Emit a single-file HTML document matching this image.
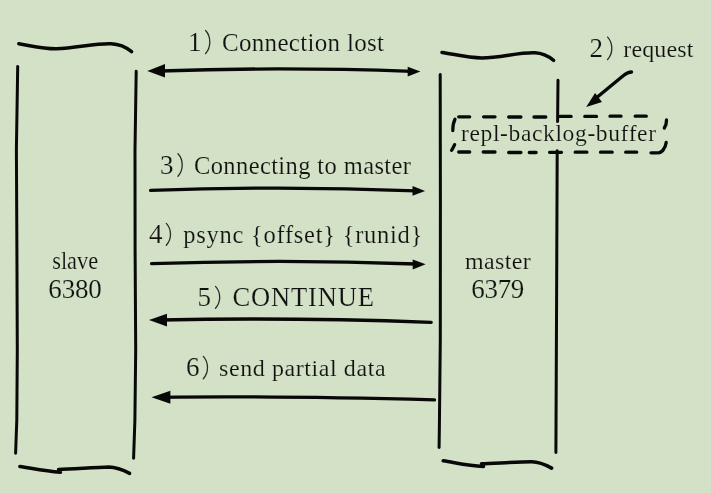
<!DOCTYPE html>
<html><head><meta charset="utf-8">
<style>
html,body{margin:0;padding:0;background:#d3e2c6;}
body{width:711px;height:493px;overflow:hidden;}
svg{display:block;will-change:transform;}
text{font-family:"Liberation Serif",serif;fill:#111;stroke:#d3e2c6;stroke-width:0.15px;opacity:0.995;}
</style></head>
<body>
<svg width="711" height="493" viewBox="0 0 711 493">
<rect width="711" height="493" fill="#d3e2c6"/>
<g fill="none" stroke="#080808" stroke-width="3" stroke-linecap="round" stroke-linejoin="round">
<!-- slave box -->
<path transform="translate(0.6,0.6)" d="M18.2,43.2 C32,45.5 44,48.4 55.7,48.2 C75,47.8 95,42.5 110.5,43.2 C120,43.6 126,47 131,51.1" stroke-width="3.5"/>
<path d="M17.7,66.5 L16.4,150 L16.9,250 L17.3,350 L16.8,420 L15.6,453.3"/>
<path d="M136.2,71.3 L135,150 L135.1,250 L135.7,350 L134.9,420 L133.6,458.2"/>
<path d="M19.8,466.4 C32,468.2 44,471 60.5,472.2 M58.6,469.4 C72,469 95,467.5 108.7,467.1 C117,467.4 124,470.5 129.6,473.4" stroke-width="3.5"/>
<!-- master box -->
<path transform="translate(0.6,0.6)" d="M441.4,51.8 C455,54 468,57.3 481.2,57.3 C500,57.2 518,51.6 534.3,52.2 C543,52.6 549,56.5 553,59.7" stroke-width="3.5"/>
<path d="M440.2,74.4 L440.4,200 L440.3,340 L439.4,425 L439.1,447.5"/>
<path d="M558,80.2 L557.6,121.6"/>
<path d="M557.2,150.8 L556.6,300 L555.9,452.6"/>
<path transform="translate(0,0.5)" d="M443.2,460.3 C455,462 467,465 483.5,466 M481.5,463.2 C495,462.8 518,461.4 531.6,461.3 C540,461.4 546,464.5 551.6,467.6" stroke-width="3.5"/>
<!-- arrows lines -->
<path stroke-width="3.3" d="M160,71 C230,68.5 330,68.5 412,71.3"/>
<path stroke-width="3.3" d="M150.6,190.4 C230,187.5 330,187.5 416,190.8"/>
<path stroke-width="3.3" d="M151.6,263.6 C230,261 330,260.8 416,264"/>
<path stroke-width="3.3" d="M160,320 C250,318 340,319 431.2,322.3"/>
<path stroke-width="3.3" d="M162,397.3 C250,396 340,397.5 434.5,399.9"/>
<!-- request arrow -->
<path d="M631.5,72 C628,72 626,73.5 623.5,75.5 L598,96.5" stroke-width="3.4"/>
</g>
<g fill="#080808" stroke="none">
<polygon points="147.3,71 165,64 165,77.4"/>
<polygon points="420.4,71.4 407.7,66.8 407.7,76.5"/>
<polygon points="425.1,191.1 412.5,186 412.5,195.7"/>
<polygon points="425.7,264.3 412.7,259.5 412.7,269.6"/>
<polygon points="149,320 167,313.8 167,326.4"/>
<polygon points="151.5,397.2 170.4,390.7 170.4,403.8"/>
<polygon points="586.2,106.9 595.1,92.9 602,101.9"/>
</g>
<!-- dashed box -->
<g fill="none" stroke="#080808" stroke-width="3.3" stroke-linecap="round">
<path d="M458.7,116.8 H469.7 M483.6,116.8 H495.0 M508.7,117 H520.9 M534.0,117 H545.8 M559.5,116.4 H571.1 M584.8,116.4 H596.5 M610.0,116.2 H621.0 M635.2,116.2 H646.3"/>
<path d="M458.7,152 H469.7 M483.2,152 H495.0 M508.7,152.5 H520.9 M529.3,152.5 H536.1 M549.6,152.3 H561.5 M575.2,152.2 H586.9 M600.5,152.2 H612.2 M625.7,152.2 H636.7 M651.0,152.8 H657.0"/>
<path d="M455,119.3 C453.6,122 452.8,126 452.8,130.5"/>
<path d="M454.6,144.6 C453.7,146.6 452.6,148.8 451.6,150.3"/>
<path d="M666.5,120 C666.6,123 665.6,126 664.3,128"/>
<path d="M666.2,142.5 C665.8,145.5 664.5,148 663.2,149.8"/>
<path d="M658.5,152.8 C660,152.6 661.5,151.8 662.8,150.5"/>
</g>
<!-- parens -->
<g fill="none" stroke="#2a2a2a" stroke-width="1.3" stroke-linecap="round">
<path d="M205.6,30.5 C211.2,36.5 211.2,47.5 205.6,53.5"/>
<path d="M607.6,37.1 C613.2,43.1 613.2,53.5 607.6,59.5"/>
<path d="M178.0,153.8 C183.6,159.8 183.6,170.2 178.0,176.2"/>
<path d="M166.3,223.4 C171.9,229.4 171.9,239.3 166.3,245.3"/>
<path d="M215.5,286.4 C221.1,292.4 221.1,302.3 215.5,308.3"/>
<path d="M203.3,356.4 C208.9,362.4 208.9,372.7 203.3,378.7"/>
</g>
<g font-size="24">
<text x="188" y="50.8" font-size="27">1</text>
<text x="222" y="50.8" textLength="162" lengthAdjust="spacing" font-size="25">Connection lost</text>
<text x="589.5" y="57" font-size="27">2</text>
<text x="623.3" y="57" textLength="70" lengthAdjust="spacing">request</text>
<text x="160" y="173.6" font-size="27">3</text>
<text x="194" y="173.6" textLength="217" lengthAdjust="spacing" font-size="24.5">Connecting to master</text>
<text x="149" y="243" font-size="27">4</text>
<text x="183.3" y="243" textLength="239" lengthAdjust="spacing" font-size="24.5">psync {offset} {runid}</text>
<text x="197.5" y="306" font-size="27">5</text>
<text x="232.4" y="306" textLength="141.6" lengthAdjust="spacing" font-size="26.5">CONTINUE</text>
<text x="186" y="376" font-size="27">6</text>
<text x="219" y="376" textLength="166.6" lengthAdjust="spacing" font-size="24">send partial data</text>
<text x="461" y="140.6" textLength="195" lengthAdjust="spacing" font-size="23.5">repl-backlog-buffer</text>
<text x="52.2" y="269.1" textLength="46" lengthAdjust="spacingAndGlyphs" font-size="25.5">slave</text>
<text x="48.3" y="298" textLength="53.5" lengthAdjust="spacing" font-size="27">6380</text>
<text x="465" y="269.1" textLength="65.8" lengthAdjust="spacing">master</text>
<text x="471.3" y="297.5" textLength="53" lengthAdjust="spacing" font-size="27">6379</text>
</g>
</svg>
</body></html>
